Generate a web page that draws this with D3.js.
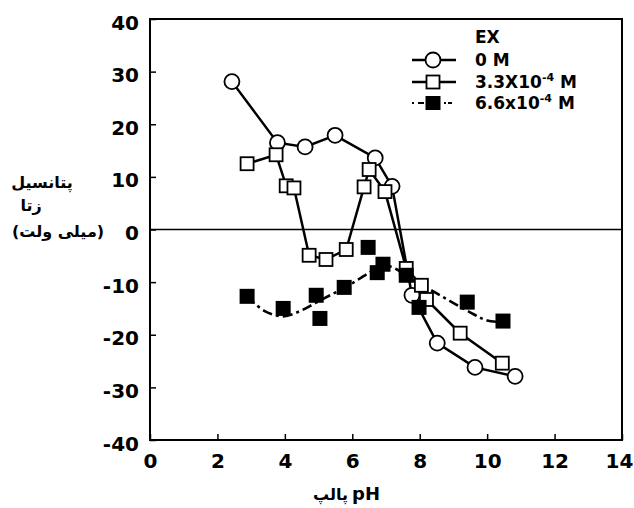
<!DOCTYPE html>
<html>
<head>
<meta charset="utf-8">
<title>pH zeta</title>
<script src="https://cdn.jsdelivr.net/npm/d3@7/dist/d3.min.js"></script>
<style>
  body { margin: 0; background: #fff; }
</style>
</head>
<body>
<script>
// 0 M
var ph0   = [2.43, 3.78, 4.6, 5.49, 6.68, 7.18, 7.77, 8.52, 9.64, 10.83];
var zeta0 = [28.1, 16.5, 15.7, 17.9, 13.6, 8.2, -12.5, -21.6, -26.2, -27.9];
// 3.3x10-4 M
var ph1   = [2.88, 3.74, 4.04, 4.27, 4.72, 5.22, 5.82, 6.35, 6.5, 6.97, 7.6, 8.05, 8.2, 9.2, 10.45];
var zeta1 = [12.5, 14.2, 8.3, 7.9, -4.9, -5.7, -3.8, 8.1, 11.4, 7.2, -7.4, -10.6, -13.3, -19.7, -25.4];
// 6.6x10-4 M
var ph2   = [2.88, 3.95, 4.93, 5.04, 5.76, 6.47, 6.74, 6.91, 7.6, 7.98, 9.41, 10.47];
var zeta2 = [-12.7, -15, -12.5, -16.9, -11, -3.4, -8.2, -6.6, -8.7, -14.8, -13.8, -17.4];
// trend curve drawn through the 6.6x10-4 M points
var phFit   = [2.88, 3.4, 3.95, 4.45, 4.9, 5.4, 5.8, 6.5, 6.9, 7.3, 7.7, 8.3, 8.9, 9.6, 10.0, 10.47];
var zetaFit = [-12.7, -15.5, -16.5, -15.5, -14, -12.3, -11, -8.2, -6.8, -7.5, -9.3, -11.4, -13.6, -16.1, -17.3, -17.6];

var xTicks = [0, 2, 4, 6, 8, 10, 12, 14];
var yTicks = [-40, -30, -20, -10, 0, 10, 20, 30, 40];
var legendLabels = ["0 M", "3.3X10", "6.6x10"];

var w = 634, h = 508;
var padL = 150, padR = 622, padT = 19, padB = 440;

var svg = d3.select("body").append("svg")
    .attr("width", w)
    .attr("height", h);

var xScale = d3.scaleLinear().domain([0, 14]).range([padL, padR]);
var yScale = d3.scaleLinear().domain([-40, 40]).range([padB, padT]);

function pts(xs, ys) {
  return xs.map(function(d, i) { return {x: d, y: ys[i]}; });
}
var s0 = pts(ph0, zeta0), s1 = pts(ph1, zeta1), s2 = pts(ph2, zeta2), fit = pts(phFit, zetaFit);

// axes (ticks inside), plain hyphen for negatives
var fmt = function(d) { return String(d); };
var xAxis = d3.axisBottom(xScale).tickValues(xTicks).tickFormat(fmt).tickSize(-6).tickPadding(14);
var yAxis = d3.axisLeft(yScale).tickValues(yTicks).tickFormat(fmt).tickSize(-6).tickPadding(11);

var gx = svg.append("g")
    .attr("transform", "translate(0," + padB + ")")
    .call(xAxis);
var gy = svg.append("g")
    .attr("transform", "translate(" + padL + ",0)")
    .call(yAxis);

[gx, gy].forEach(function(g) {
  g.select(".domain").remove();
  g.selectAll("line").attr("stroke", "#000").attr("stroke-width", 1.5);
  g.selectAll("text")
    .attr("font-family", "DejaVu Sans")
    .attr("font-weight", "bold")
    .attr("font-size", "20px")
    .attr("fill", "#000");
});
gy.selectAll("text").attr("dy", "0.5em");
// last x label sits at the window edge
gx.selectAll("text").filter(function(d) { return d == 14; }).attr("dx", -3);

// frame
svg.append("rect")
  .attr("x", padL).attr("y", padT)
  .attr("width", padR - padL).attr("height", padB - padT)
  .attr("fill", "none").attr("stroke", "#000").attr("stroke-width", 2);

// zero line
svg.append("line")
  .attr("x1", padL).attr("x2", padR)
  .attr("y1", yScale(0)).attr("y2", yScale(0))
  .attr("stroke", "#000").attr("stroke-width", 1.5);

var line = d3.line()
  .x(function(d) { return xScale(d.x); })
  .y(function(d) { return yScale(d.y); });

var smooth = d3.line()
  .x(function(d) { return xScale(d.x); })
  .y(function(d) { return yScale(d.y); })
  .curve(d3.curveCatmullRom);

// lines
svg.append("path").attr("d", line(s0))
  .attr("fill", "none").attr("stroke", "#000").attr("stroke-width", 2.5);
svg.append("path").attr("d", line(s1))
  .attr("fill", "none").attr("stroke", "#000").attr("stroke-width", 2.5);
svg.append("path").attr("d", smooth(fit))
  .attr("fill", "none").attr("stroke", "#000").attr("stroke-width", 2.6)
  .attr("stroke-dasharray", "10,4,3,4");

// markers
svg.selectAll(".c0").data(s0).enter().append("circle")
  .attr("cx", function(d) { return xScale(d.x); })
  .attr("cy", function(d) { return yScale(d.y); })
  .attr("r", 7.5)
  .attr("fill", "#fff").attr("stroke", "#000").attr("stroke-width", 1.8);

svg.selectAll(".q1").data(s1).enter().append("rect")
  .attr("x", function(d) { return xScale(d.x) - 6.5; })
  .attr("y", function(d) { return yScale(d.y) - 6.5; })
  .attr("width", 13).attr("height", 13)
  .attr("fill", "#fff").attr("stroke", "#000").attr("stroke-width", 1.8);

svg.selectAll(".q2").data(s2).enter().append("rect")
  .attr("x", function(d) { return xScale(d.x) - 7.5; })
  .attr("y", function(d) { return yScale(d.y) - 7.5; })
  .attr("width", 15).attr("height", 15)
  .attr("fill", "#000");

// legend
var lx = 433, ly = [60, 82, 103];
svg.append("text").text("EX")
  .attr("x", 475).attr("y", 43)
  .attr("font-family", "DejaVu Sans").attr("font-weight", "bold")
  .attr("font-size", "17px");

for (var i = 0; i < 3; i++) {
  var seg = svg.append("line")
    .attr("x1", lx - 21).attr("x2", lx + 23)
    .attr("y1", ly[i]).attr("y2", ly[i])
    .attr("stroke", "#000").attr("stroke-width", 2.5);
  if (i == 2) seg.attr("stroke-dasharray", "2,4,6,14,2,4,2").attr("stroke-width", 2.2);

  if (i == 0) {
    svg.append("circle").attr("cx", lx).attr("cy", ly[i]).attr("r", 7.5)
      .attr("fill", "#fff").attr("stroke", "#000").attr("stroke-width", 1.8);
  } else if (i == 1) {
    svg.append("rect").attr("x", lx - 6.5).attr("y", ly[i] - 6.5)
      .attr("width", 13).attr("height", 13)
      .attr("fill", "#fff").attr("stroke", "#000").attr("stroke-width", 1.8);
  } else {
    svg.append("rect").attr("x", lx - 7.5).attr("y", ly[i] - 7)
      .attr("width", 15).attr("height", 14).attr("fill", "#000");
  }

  var t = svg.append("text")
    .attr("x", 475).attr("y", ly[i] + 6)
    .attr("font-family", "DejaVu Sans").attr("font-weight", "bold")
    .attr("font-size", "17px");
  t.append("tspan").text(legendLabels[i]);
  if (i > 0) {
    t.append("tspan").text("-4").attr("font-size", "11px").attr("dy", -7);
    t.append("tspan").text(" M").attr("dy", 7);
  }
}

// y axis title (Persian)
var ytitle = [["پتانسیل", 42, 188], ["زتا", 31, 211], ["(میلی ولت)", 58, 237]];
ytitle.forEach(function(r) {
  svg.append("text").text(r[0])
    .attr("x", r[1]).attr("y", r[2])
    .attr("text-anchor", "middle")
    .attr("font-family", "DejaVu Sans").attr("font-weight", "bold")
    .attr("font-size", "16px");
});

// x axis title
svg.append("text").text("pH")
  .attr("x", 352).attr("y", 500)
  .attr("font-family", "DejaVu Sans").attr("font-weight", "bold")
  .attr("font-size", "18px");
svg.append("text").text("پالپ")
  .attr("x", 348).attr("y", 500)
  .attr("text-anchor", "end")
  .attr("font-family", "DejaVu Sans").attr("font-weight", "bold")
  .attr("font-size", "16px");
</script>
</body>
</html>
